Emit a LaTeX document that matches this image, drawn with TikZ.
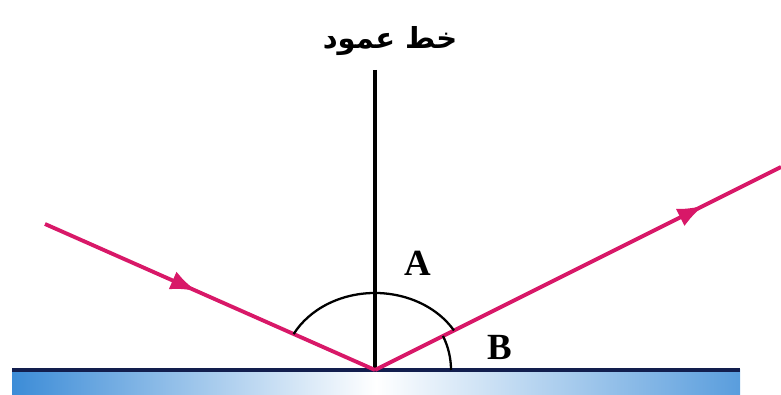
\documentclass[tikz,border=0pt]{standalone}
\usepackage{fontspec}
\setmainfont{Liberation Serif}
\newfontfamily\arabicfont[Script=Arabic]{DejaVu Sans}
\TeXXeTstate=1
\definecolor{rayPink}{RGB}{216,24,104}
\definecolor{mirrorBlue}{RGB}{60,140,215}
\definecolor{mirrorEdge}{RGB}{18,30,78}
\usetikzlibrary{arrows.meta,decorations.markings,calc}

\begin{document}
\begin{tikzpicture}[x=0.02cm, y=0.02cm,
  ray/.style={draw=rayPink, line width=2.2pt},
  anglearc/.style={draw, line width=1.3pt},
  letter/.style={font=\fontsize{21}{24}\selectfont\bfseries},
  midarrow/.style={postaction=decorate, decoration={markings,
      mark=at position #1 with {\arrow[rayPink]{Latex[length=15pt,width=11pt]}}}}
]
  \useasboundingbox (0,0) rectangle (781,395);

  \shade[left color=mirrorBlue, right color=mirrorBlue!85, middle color=white]
    (12,-2) rectangle (740,25);
  \draw[mirrorEdge, line width=1.8pt] (12,25) -- (740,25);

  \coordinate (hit) at (375,25);
  \coordinate (src) at (45,171);
  \coordinate (out) at (781,228);
  \coordinate (top) at (375,325);
  \node[font=\arabicfont\fontsize{16.5}{18}\selectfont\bfseries] (normal) at (390,354)
    {\beginR خط عمود\endR};

  \draw[line width=2.2pt] (top) -- (hit);
  \draw[ray, midarrow=0.46] (src) -- (hit);
  \draw[ray, midarrow=0.81] (hit) -- (out);

  \draw[anglearc] ($(hit)+(30.9:92 and 77)$) arc[start angle=30.9, end angle=152.2, x radius=92, y radius=77];
  \draw[anglearc] ($(hit)+(76,0)$) arc[start angle=0, end angle=26.6, radius=76];

  \node[letter] (angA) at (418,132) {A};
  \node[letter] (angB) at (500,48) {B};
\end{tikzpicture}
\end{document}
